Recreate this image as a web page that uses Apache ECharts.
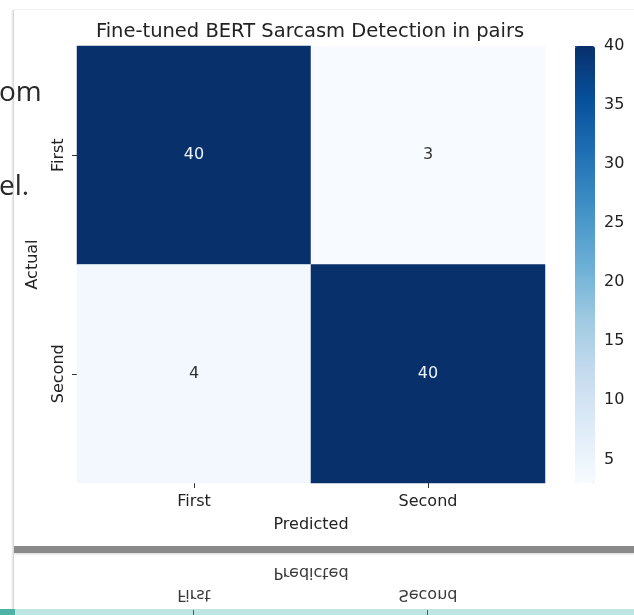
<!DOCTYPE html>
<html lang="en">
<head>
<meta charset="UTF-8">
<title>Fine-tuned BERT Sarcasm Detection in pairs</title>
<script src="https://cdn.jsdelivr.net/npm/echarts@6/dist/echarts.min.js"></script>
<style>
    html, body { margin: 0; padding: 0; background: #fff; }
    #main { width: 634px; height: 615px; }
</style>
</head>
<body>
<div id="main"></div>
<script type="text/javascript">
    // confusion matrix data
    var predictedLabels = ['First', 'Second'];
    var actualLabels = ['First', 'Second'];
    var counts = [
        [40, 3],   // actual First
        [4, 40]    // actual Second
    ];
    var colorbarTicks = [5, 10, 15, 20, 25, 30, 35, 40];
    var blues = ['#f7fbff', '#deebf7', '#c6dbef', '#9ecae1', '#6baed6', '#4292c6', '#2171b5', '#08519c', '#08306b'];

    var font = 'DejaVu Sans';
    var fs = 16;
    var cells = [];
    for (var r = 0; r < actualLabels.length; r++) {
        for (var c = 0; c < predictedLabels.length; c++) {
            var v = counts[r][c];
            cells.push({
                value: [c, r, v],
                label: { color: v > 20 ? '#eef3fa' : '#333' }
            });
        }
    }

    var myChart = echarts.init(document.getElementById('main'));
    var option = {
        backgroundColor: '#fff',
        animation: false,
        title: {
            text: 'Fine-tuned BERT Sarcasm Detection in pairs',
            left: 305,
            textAlign: 'center',
            top: 17,
            textStyle: { fontFamily: font, fontSize: 19.5, fontWeight: 'normal', color: '#222' }
        },
        grid: [
            { left: 77, top: 46, width: 468, height: 437 },
            { left: 575, top: 46, width: 20, height: 437 }
        ],
        xAxis: [{
            type: 'category',
            gridIndex: 0,
            data: predictedLabels,
            name: 'Predicted',
            nameLocation: 'middle',
            nameGap: 34,
            nameTextStyle: { fontFamily: font, fontSize: fs, color: '#222' },
            axisLine: { show: false },
            axisTick: { show: true, alignWithLabel: true, length: 5, lineStyle: { color: '#333' } },
            axisLabel: { fontFamily: font, fontSize: fs, color: '#222', margin: 11 },
            splitLine: { show: false }
        }, {
            type: 'value',
            gridIndex: 1,
            show: false
        }],
        yAxis: [{
            type: 'category',
            gridIndex: 0,
            data: actualLabels,
            inverse: true,
            name: 'Actual',
            nameLocation: 'middle',
            nameGap: 36,
            nameRotate: 90,
            nameTextStyle: { fontFamily: font, fontSize: fs, color: '#222' },
            axisLine: { show: false },
            axisTick: { show: true, alignWithLabel: true, length: 5, lineStyle: { color: '#333' } },
            axisLabel: { fontFamily: font, fontSize: fs, color: '#222', rotate: 90, margin: 10 },
            splitLine: { show: false }
        }, {
            type: 'value',
            gridIndex: 1,
            position: 'right',
            min: 3,
            max: 40,
            axisLine: { show: false },
            axisTick: { show: true, length: 5, lineStyle: { color: '#333' }, customValues: colorbarTicks },
            axisLabel: { fontFamily: font, fontSize: fs, color: '#222', margin: 9, customValues: colorbarTicks },
            splitLine: { show: false }
        }],
        visualMap: {
            type: 'continuous',
            seriesIndex: 0,
            min: 3,
            max: 40,
            calculable: false,
            left: 575,
            top: 46,
            padding: 0,
            itemWidth: 20,
            itemHeight: 437,
            text: null,
            showLabel: false,
            inRange: { color: blues }
        },
        series: [{
            type: 'heatmap',
            xAxisIndex: 0,
            yAxisIndex: 0,
            data: cells,
            label: { show: true, fontFamily: font, fontSize: fs },
            itemStyle: { borderWidth: 0 },
            emphasis: { disabled: true }
        }, {
            type: 'scatter',
            xAxisIndex: 1,
            yAxisIndex: 1,
            data: []
        }],
        graphic: [
            // slide text peeking in at left
            { type: 'text', left: -1, top: 79, z: 10, style: { text: 'om', font: '28px "Open Sans"', fill: '#2a2a2a' } },
            { type: 'text', left: -1, top: 173, z: 10, style: { text: 'el.', font: '28px "Open Sans"', fill: '#2a2a2a' } },
            // card left shadow
            { type: 'rect', shape: { x: 11, y: 10, width: 3, height: 600 },
              style: { fill: new echarts.graphic.LinearGradient(0, 0, 1, 0, [{ offset: 0, color: 'rgba(0,0,0,0)' }, { offset: 1, color: 'rgba(0,0,0,0.18)' }]) } },
            { type: 'rect', shape: { x: 14, y: 9, width: 620, height: 1 }, style: { fill: 'rgba(0,0,0,0.06)' } },
            // grey divider
            { type: 'rect', shape: { x: 14, y: 546, width: 620, height: 7 }, style: { fill: '#8a8a8a' } },
            { type: 'rect', shape: { x: 14, y: 553, width: 620, height: 3 },
              style: { fill: new echarts.graphic.LinearGradient(0, 0, 0, 1, [{ offset: 0, color: 'rgba(0,0,0,0.12)' }, { offset: 1, color: 'rgba(0,0,0,0)' }]) } },
            // mirrored reflection of the x labels
            { type: 'text', x: 311, y: 572, scaleY: -1, style: { text: 'Predicted', font: '16px "DejaVu Sans"', fill: '#3a3a3a', align: 'center', verticalAlign: 'middle' } },
            { type: 'text', x: 194, y: 594, scaleY: -1, style: { text: 'First', font: '16px "DejaVu Sans"', fill: '#3a3a3a', align: 'center', verticalAlign: 'middle' } },
            { type: 'text', x: 428, y: 594, scaleY: -1, style: { text: 'Second', font: '16px "DejaVu Sans"', fill: '#3a3a3a', align: 'center', verticalAlign: 'middle' } },
            // teal strip at the bottom
            { type: 'rect', shape: { x: 0, y: 609, width: 15, height: 6 }, style: { fill: '#4cb3a6' } },
            { type: 'rect', shape: { x: 15, y: 609, width: 619, height: 6 }, style: { fill: '#bfe5e0' } },
            { type: 'rect', shape: { x: 193, y: 610, width: 1, height: 5 }, style: { fill: '#555' } },
            { type: 'rect', shape: { x: 427, y: 610, width: 1, height: 5 }, style: { fill: '#555' } }
        ]
    };
    myChart.setOption(option);
</script>
</body>
</html>
